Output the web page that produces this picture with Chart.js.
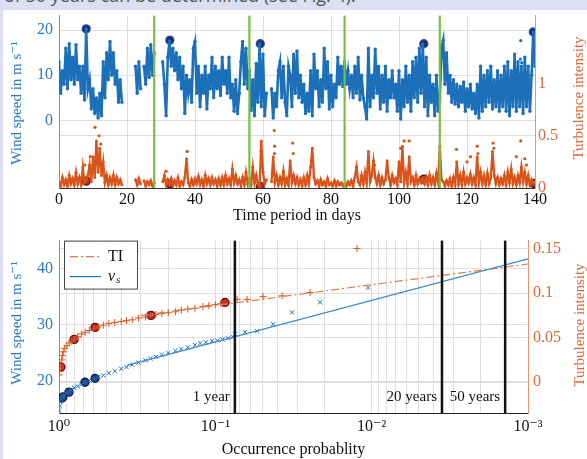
<!DOCTYPE html>
<html>
<head>
<meta charset="utf-8">
<script src="https://cdn.jsdelivr.net/npm/chart.js@4.4.1/dist/chart.umd.min.js"></script>
<style>
  body { margin: 0; background: #dcdff1; width: 587px; height: 459px; overflow: hidden; position: relative; }
  #sheet { position: absolute; left: 3px; top: 10px; width: 584px; height: 449px; background: #fff; }
  #head { position: absolute; left: 0; top: 0; width: 587px; height: 10px; overflow: hidden; background: #dcdff1; z-index: 5; }
  #head span { position: absolute; left: 4px; top: -17px; font: 18px 'Open Sans', sans-serif; color: #555; white-space: nowrap; }
  canvas { position: absolute; left: 0; }
  #top { top: 0; }
  #bottom { top: 225px; }
</style>
</head>
<body>
<div id="sheet"></div>
<canvas id="top" width="587" height="225"></canvas>
<canvas id="bottom" width="587" height="234"></canvas>
<div id="head"><span>of 50 years can be determined (see Fig. 4).</span></div>
<script>
// ---- top panel: time series, one value every half day (null = no data)
const halfDay = 0.5;
const windSpeed = [
  13,6,11,8,16,7,17,9,14,8,16.8,9,12,6,12,4.5,20.3,7,9,2.5,
  7,1.5,5,0.5,6,1,13,5,15,9,17.5,10,15,8,11,4,9,4,null,null,
  null,null,null,null,null,12,6,13,7,null,12,8,16,9.5,16.8,10,15,null,null,null,
  null,13,8,1,14,17.6,12,16,11,15,9,14,7,12,1.5,10,6,9,4,16,
  17.5,6,12,3,10,6,12,2.5,10,7,14,5,12,7,11,5.5,14,8,11,6,
  14,5,8,2,9,1.5,6,13,17.5,8,16,7,11,2.2,9,1,12.6,4,17,3,
  14.7,1,6,null,null,7,0.5,6,3,11,13,5,12,4,1,12,10,3,14.7,6,
  15.4,5,10,4,8,1.5,6,2,11,1,14.7,7,11,3,9,4,16,7,13,2.5,
  10,3,8,5,14,8,12,7.5,13,8,11,7,10,5,12,6,14,4.5,10,5,
  3,0.3,16,3,10,5,15.8,6,12,2.5,10,4,12,2,9,5,11,5,8,2,
  11,0.3,9,3,12,4,10,2,13,5,14,4,16,6,17,3,14,1,10,4,
  8,1,10,2,5,16,17.8,8,15,6,10,4,9,3.6,8,3,7.5,4,8.5,2,
  7,3,8,2.5,6,1.5,8,0.5,12,2,10,3,11,4,12,2.5,9,3,11,2,
  10,3,12,2,13,1,11,3,14.7,2,13,3,12,1.5,14,3,12,2,10,19.6,12
];
const turbulence = [
  0.06,0.02,0.1,0.03,0.08,0.02,0.12,0.04,0.09,0.03,0.15,0.04,0.1,0.03,0.2,0.05,0.07,0.12,0.22,0.06,
  0.3,0.1,0.45,0.15,0.38,0.12,0.25,0.05,0.12,0.03,0.1,0.04,0.12,0.03,0.1,0.04,0.08,0.03,null,null,
  null,null,null,null,null,0.08,0.03,0.09,0.04,null,0.07,0.02,0.06,0.03,0.07,0.02,0.05,null,null,null,
  null,0.06,0.12,0.03,0.08,0.04,0.09,0.02,0.07,0.03,0.1,0.02,0.06,0.03,0.1,0.28,0.05,0.02,0.08,0.03,
  0.09,0.04,0.11,0.03,0.08,0.02,0.12,0.04,0.09,0.03,0.1,0.04,0.08,0.02,0.09,0.03,0.1,0.03,0.12,0.04,
  0.09,0.03,0.18,0.05,0.12,0.04,0.08,0.02,0.1,0.03,0.15,0.04,0.09,0.03,0.2,0.05,0.12,0.03,0.02,0.45,
  0.15,0.04,0.08,null,null,0.06,0.3,0.05,0.12,0.03,0.1,0.04,0.16,0.03,0.09,0.03,0.26,0.05,0.12,0.04,
  0.1,0.03,0.08,0.02,0.1,0.03,0.12,0.04,0.2,0.38,0.1,0.04,0.07,0.02,0.08,0.03,0.06,0.02,0.09,0.03,
  0.05,0.02,0.07,0.02,0.06,0.03,0.05,0.02,0.04,0.02,0.06,0.03,0.07,0.02,0.1,0.2,0.06,0.03,0.12,0.04,
  0.15,0.05,0.35,0.06,0.12,0.26,0.1,0.04,0.12,0.03,0.1,0.04,0.08,0.26,0.1,0.03,0.12,0.05,0.09,0.03,
  0.25,0.06,0.4,0.05,0.15,0.04,0.3,0.06,0.1,0.03,0.12,0.04,0.09,0.05,0.085,0.04,0.1,0.03,0.12,0.04,
  0.1,0.03,0.14,0.05,0.4,0.08,0.06,0.02,0.07,0.03,0.09,0.02,0.1,0.03,0.25,0.04,0.12,0.03,0.15,0.04,
  0.1,0.05,0.13,0.04,0.1,0.03,0.3,0.05,0.15,0.04,0.12,0.03,0.14,0.04,0.1,0.35,0.12,0.04,0.1,0.03,
  0.09,0.04,0.12,0.03,0.15,0.05,0.18,0.04,0.1,0.03,0.12,0.05,0.2,0.06,0.15,0.04,0.12,0.03,0.08,0.045,0.06
];
const windOutlierDays = [135.7, 135.8, 136.1];
const windOutliers = [13.6, 17.7, 12.8];
const tiOutlierDays = [7.6, 9.2, 10.6, 11.8, 12.3, 31.5, 37.7, 59.4, 59.6, 63.3, 63.4, 63.4, 68.7, 68.9, 74.6,
  91, 92.8, 100.5, 101.5, 103, 112, 116.9, 120, 121, 123, 123.2, 127.7, 127.9, 134.5, 135.8, 137, 137.5];
const tiOutliers = [0.22, 0.3, 0.58, 0.5, 0.42, 0.16, 0.35, 0.35, 0.28, 0.55, 0.4, 0.33, 0.43, 0.33, 0.3,
  0.3, 0.22, 0.38, 0.45, 0.45, 0.33, 0.37, 0.25, 0.3, 0.4, 0.33, 0.43, 0.38, 0.3, 0.45, 0.28, 0.22];
const peakDays = [8, 32.6, 59.2, 107.3, 139.5];
const peakWind = [20.3, 17.8, 17.0, 17.0, 19.6];
const peakTI = [0.066, 0.04, 0.015, 0.085, 0.045];
const periodEnds = [28, 56, 84, 112];
const dayTicks = [0, 20, 40, 60, 80, 100, 120, 140];
const windTicksTop = [0, 10, 20];
const tiTicksTop = [0, 0.5, 1];

// ---- bottom panel: sorted values against occurrence probability
const tiProb = [1.0,0.99,0.98,0.97,0.96,0.95,0.94,0.92,0.89,0.86,0.83,0.80,0.76,0.72,0.68,0.64,0.60,0.56,0.52,0.48,
  0.44,0.40,0.37,0.34,0.31,0.28,0.26,0.24,0.22,0.20,0.18,0.165,0.15,0.135,0.12,0.11,0.10,0.092,
  0.0726,0.0627,0.0495,0.0374,0.0248,0.0124];
const tiSorted = [0.008,0.012,0.016,0.02,0.025,0.03,0.034,0.038,0.041,0.044,0.046,0.048,0.051,0.054,0.056,0.058,0.060,0.062,0.064,0.066,
  0.067,0.068,0.069,0.070,0.072,0.073,0.075,0.076,0.077,0.078,0.079,0.081,0.082,0.083,0.085,0.086,0.087,0.088,
  0.093,0.093,0.096,0.097,0.1007,0.15];
const windProb = [1.0,0.99,0.98,0.97,0.95,0.93,0.90,0.87,0.84,0.80,0.76,0.72,0.68,0.64,0.60,0.56,0.52,0.48,0.44,0.40,
  0.37,0.34,0.31,0.28,0.26,0.24,0.22,0.20,0.18,0.165,0.15,0.135,0.125,0.115,0.105,0.097,0.09,0.083,0.077,0.0748,
  0.0646,0.054,0.0427,0.0323,0.0214,0.01055];
const windSorted = [14.8,15.6,16.3,16.8,17.2,17.5,17.8,18.1,18.4,18.8,19.1,19.4,19.8,20.1,20.4,20.7,21.0,21.4,21.8,22.2,
  22.5,22.9,23.3,23.7,24.0,24.3,24.7,25.0,25.4,25.7,26.0,26.4,26.7,26.9,27.1,27.2,27.4,27.6,27.8,28.4,
  28.7,28.9,30.1,32.2,34.0,36.6];
const tiCircleProb = [0.971, 0.80, 0.588, 0.258, 0.0867];
const tiCircles = [0.017, 0.048, 0.0615, 0.075, 0.0895];
const windCircleProb = [0.955, 0.943, 0.863, 0.682, 0.588];
const windCircles = [17.0, 17.2, 18.05, 19.8, 20.5];
const windFitProb = [0.367, 0.001];
const windFit = [22.8, 41.7];
const tiFitProb = [0.3, 0.001];
const tiFit = [0.075, 0.1327];
const returnProbs = [0.075, 0.00355, 0.0014];
const returnLabels = ['1 year', '20 years', '50 years'];
const windTicksBottom = [20, 30, 40];
const tiTicksBottom = [0, 0.05, 0.1, 0.15];
const decadeLabels = { 1: '10⁰', 0.1: '10⁻¹', 0.01: '10⁻²', 0.001: '10⁻³' };

const serif = "'Liberation Serif', 'DejaVu Serif', serif";
const blue = '#1c6fb9', orange = '#d9541a';
const blueText = '#2b7bbf', orangeText = '#d8683a';
const gridColor = '#dedede';

const pts = (xs, ys) => xs.map((x, i) => ({ x: x, y: ys[i] }));
const days = windSpeed.map((_, i) => i * halfDay);

function sideTitles(left, right) {
  return {
    id: 'sideTitles',
    afterDraw(chart) {
      const ctx = chart.ctx;
      [[left, blueText], [right, orangeText]].forEach(([t, col]) => {
        ctx.save();
        ctx.translate(t.x, t.y);
        ctx.rotate(-Math.PI / 2);
        ctx.font = '15px ' + serif;
        ctx.fillStyle = col;
        ctx.textAlign = 'center';
        ctx.textBaseline = 'middle';
        ctx.fillText(t.text, 0, 0);
        ctx.restore();
      });
    }
  };
}

const periodLines = {
  id: 'periodLines',
  afterDatasetsDraw(chart) {
    const { ctx, chartArea: a, scales: { x } } = chart;
    ctx.save();
    ctx.strokeStyle = '#74c043';
    ctx.lineWidth = 2.2;
    periodEnds.forEach(d => {
      const px = x.getPixelForValue(d);
      ctx.beginPath(); ctx.moveTo(px, a.top); ctx.lineTo(px, a.bottom); ctx.stroke();
    });
    ctx.restore();
  }
};

const returnLines = {
  id: 'returnLines',
  afterDatasetsDraw(chart) {
    const { ctx, chartArea: a, scales: { x } } = chart;
    ctx.save();
    returnProbs.forEach((p, i) => {
      const px = x.getPixelForValue(p);
      ctx.strokeStyle = '#111';
      ctx.lineWidth = 2.5;
      ctx.beginPath(); ctx.moveTo(px, a.top); ctx.lineTo(px, a.bottom); ctx.stroke();
      ctx.fillStyle = '#111';
      ctx.font = '15px ' + serif;
      ctx.textAlign = 'right';
      ctx.textBaseline = 'middle';
      ctx.fillText(returnLabels[i], px - 5, a.bottom - 16);
    });
    ctx.restore();
  }
};

const legendBox = {
  id: 'legendBox',
  afterDraw(chart) {
    const { ctx, chartArea: a } = chart;
    const x = a.left + 5, y = a.top, w = 73, h = 48;
    ctx.save();
    ctx.fillStyle = '#fff';
    ctx.fillRect(x, y, w, h);
    ctx.strokeStyle = '#444';
    ctx.lineWidth = 1;
    ctx.strokeRect(x + 0.5, y + 0.5, w, h);
    ctx.lineWidth = 1.2;
    ctx.strokeStyle = '#e07a4c';
    ctx.setLineDash([8, 3, 2, 3]);
    ctx.beginPath(); ctx.moveTo(x + 6, y + 16); ctx.lineTo(x + 37, y + 16); ctx.stroke();
    ctx.setLineDash([]);
    ctx.strokeStyle = blue;
    ctx.beginPath(); ctx.moveTo(x + 6, y + 36); ctx.lineTo(x + 37, y + 36); ctx.stroke();
    ctx.fillStyle = '#111';
    ctx.textBaseline = 'middle';
    ctx.font = '16px ' + serif;
    ctx.fillText('TI', x + 44, y + 16);
    ctx.font = 'italic 16px ' + serif;
    ctx.fillText('v', x + 44, y + 36);
    ctx.font = 'italic 11px ' + serif;
    ctx.fillText('s', x + 52, y + 40);
    ctx.restore();
  }
};

// top chart
new Chart(document.getElementById('top'), {
  type: 'scatter',
  data: {
    datasets: [
      { data: pts(days, turbulence), yAxisID: 'ti', showLine: true, spanGaps: false,
        borderColor: orange, backgroundColor: orange, borderWidth: 2.3, pointRadius: 1.5, pointBorderWidth: 0 },
      { data: pts(tiOutlierDays, tiOutliers), yAxisID: 'ti',
        backgroundColor: orange, pointRadius: 1.6, pointBorderWidth: 0 },
      { data: pts(days, windSpeed), yAxisID: 'wind', showLine: true, spanGaps: false,
        borderColor: blue, backgroundColor: blue, borderWidth: 2.6, pointRadius: 1.7, pointBorderWidth: 0 },
      { data: pts(windOutlierDays, windOutliers), yAxisID: 'wind',
        backgroundColor: blue, pointRadius: 1.6, pointBorderWidth: 0 },
      { data: pts(peakDays, peakTI), yAxisID: 'ti',
        backgroundColor: '#c0262d', borderColor: '#5e0c0e', pointRadius: 4, pointBorderWidth: 1.3 },
      { data: pts(peakDays, peakWind), yAxisID: 'wind',
        backgroundColor: '#1a2b6e', borderColor: '#2f4f9f', pointRadius: 4, pointBorderWidth: 1.3 }
    ]
  },
  options: {
    responsive: false,
    animation: false,
    devicePixelRatio: 1,
    layout: { padding: { top: 5, left: 0, right: 0, bottom: 0 } },
    plugins: { legend: { display: false }, tooltip: { enabled: false } },
    scales: {
      x: {
        type: 'linear', min: 0, max: 140,
        afterBuildTicks: s => { s.ticks = dayTicks.map(v => ({ value: v })); },
        ticks: { color: '#111', font: { family: serif, size: 16 }, padding: 2, maxRotation: 0 },
        grid: { color: gridColor, drawTicks: false },
        border: { color: '#333' },
        title: { display: true, text: 'Time period in days', color: '#111',
                 font: { family: serif, size: 16 }, padding: { top: 0, bottom: 0 } },
        afterFit: s => { s.height = 37; }
      },
      wind: {
        position: 'left', min: -15, max: 23.24,
        afterBuildTicks: s => { s.ticks = windTicksTop.map(v => ({ value: v })); },
        ticks: { color: blueText, font: { family: serif, size: 16 }, padding: 6 },
        grid: { color: gridColor, drawTicks: false },
        border: { color: '#5b9bd5' },
        afterFit: s => { s.width = 59; }
      },
      ti: {
        position: 'right', min: 0, max: 1.649,
        afterBuildTicks: s => { s.ticks = tiTicksTop.map(v => ({ value: v })); },
        ticks: { color: orangeText, font: { family: serif, size: 16 }, padding: 3, callback: v => String(v) },
        grid: { color: c => (c.tick && c.tick.value === 0.5) ? gridColor : 'rgba(0,0,0,0)', drawTicks: false },
        border: { color: '#e59770' },
        afterFit: s => { s.width = 52; }
      }
    }
  },
  plugins: [periodLines, sideTitles(
    { x: 17, y: 103, text: 'Wind speed in m s⁻¹' },
    { x: 579, y: 98, text: 'Turbulence intensity' })]
});

// bottom chart
const logGrid = [1];
[0.1, 0.01, 0.001].forEach(d => { for (let m = 1; m <= 9; m++) logGrid.push(+(m * d).toPrecision(3)); });

new Chart(document.getElementById('bottom'), {
  type: 'scatter',
  data: {
    datasets: [
      { data: pts(windFitProb, windFit), yAxisID: 'wind', showLine: true,
        borderColor: '#3d8bcc', borderWidth: 1.2, pointRadius: 0 },
      { data: pts(tiFitProb, tiFit), yAxisID: 'ti', showLine: true,
        borderColor: '#e07a4c', borderWidth: 1.2, borderDash: [8, 3, 2, 3], pointRadius: 0 },
      { data: pts(windProb, windSorted), yAxisID: 'wind', pointStyle: 'crossRot',
        borderColor: blue, pointRadius: 3, pointBorderWidth: 1 },
      { data: pts(tiProb, tiSorted), yAxisID: 'ti', pointStyle: 'cross',
        borderColor: orange, pointRadius: 3.5, pointBorderWidth: 1 },
      { data: pts(tiCircleProb, tiCircles), yAxisID: 'ti',
        backgroundColor: '#c8282c', borderColor: '#5e0c0e', pointRadius: 4, pointBorderWidth: 1.3 },
      { data: pts(windCircleProb, windCircles), yAxisID: 'wind',
        backgroundColor: '#23408a', borderColor: '#0f1c45', pointRadius: 4, pointBorderWidth: 1.3 }
    ]
  },
  options: {
    responsive: false,
    animation: false,
    devicePixelRatio: 1,
    layout: { padding: { top: 15, left: 0, right: 0, bottom: 0 } },
    plugins: { legend: { display: false }, tooltip: { enabled: false } },
    scales: {
      x: {
        type: 'logarithmic', min: 0.001, max: 1, reverse: true,
        afterBuildTicks: s => { s.ticks = logGrid.map(v => ({ value: v })); },
        ticks: { autoSkip: false, maxRotation: 0, color: '#111', font: { family: serif, size: 16 }, padding: 4,
                 callback: v => decadeLabels[v] || '' },
        grid: { color: gridColor, drawTicks: false },
        border: { color: '#222' },
        title: { display: true, text: 'Occurrence probablity', color: '#111',
                 font: { family: serif, size: 16 }, padding: { top: 0, bottom: 0 } },
        afterFit: s => { s.height = 46; }
      },
      wind: {
        position: 'left', min: 14.34, max: 44.96,
        afterBuildTicks: s => { s.ticks = windTicksBottom.map(v => ({ value: v })); },
        ticks: { color: blueText, font: { family: serif, size: 16 }, padding: 6 },
        grid: { color: gridColor, drawTicks: false },
        border: { color: '#5b9bd5' },
        afterFit: s => { s.width = 59; }
      },
      ti: {
        position: 'right', min: -0.0347, max: 0.159,
        afterBuildTicks: s => { s.ticks = tiTicksBottom.map(v => ({ value: v })); },
        ticks: { color: orangeText, font: { family: serif, size: 16 }, padding: 5, callback: v => String(v) },
        grid: { color: gridColor, drawTicks: false },
        border: { color: '#e59770' },
        afterFit: s => { s.width = 59; }
      }
    }
  },
  plugins: [returnLines, legendBox, sideTitles(
    { x: 17, y: 98, text: 'Wind speed in m s⁻¹' },
    { x: 580, y: 100, text: 'Turbulence intensity' })]
});
</script>
</body>
</html>
